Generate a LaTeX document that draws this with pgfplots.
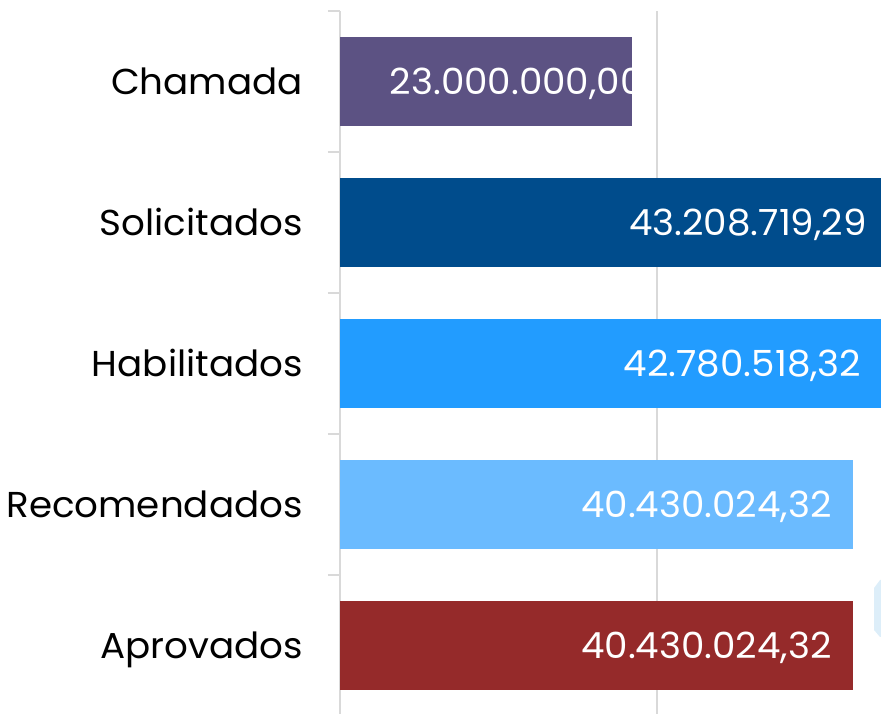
\documentclass[border=0pt]{standalone}
\usepackage{pgfplots}
\pgfplotsset{compat=1.18}
\usepackage{fontspec}
\setmainfont[FakeStretch=1.035]{Poppins}
\definecolor{cCham}{HTML}{5C5283}
\definecolor{cSol}{HTML}{004C8C}
\definecolor{cHab}{HTML}{229CFF}
\definecolor{cRec}{HTML}{6BBBFF}
\definecolor{cApr}{HTML}{952A2A}
\definecolor{gridgray}{HTML}{D9D9D9}
\definecolor{deco}{HTML}{DDEEF9}
\begin{document}
\begin{tikzpicture}
\useasboundingbox (0,0) rectangle (881bp,714bp);
\fill[deco] (881bp,134bp) -- (880bp,134bp) -- (874bp,126bp) -- (874bp,84bp) -- (880bp,77bp) -- (881bp,77bp) -- cycle;
\begin{axis}[
  at={(340bp,-2bp)}, anchor=south west,
  scale only axis, width=634bp, height=705bp,
  xmin=0, xmax=50000000, ymin=-0.5, ymax=4.5, y dir=reverse,
  enlargelimits=false,
  xbar, bar width=89bp, bar shift=0pt,
  axis lines*=left,
  x axis line style={draw=none},
  y axis line style={draw=gridgray, line width=2bp},
  xtick={25000000}, xticklabels={},
  xmajorgrids, major x grid style={draw=gridgray, line width=2bp},
  major tick length=0pt,
  ytick={0,1,2,3,4},
  yticklabels={Chamada,Solicitados,Habilitados,Recomendados,Aprovados},
  extra y ticks={-0.5,0.5,1.5,2.5,3.5,4.5}, extra y tick labels={},
  extra y tick style={major tick length=12bp, tick align=outside, tick style={draw=gridgray, line width=2bp}},
  yticklabel style={font=\fontsize{36bp}{43bp}\selectfont, text=black, anchor=base east, inner sep=0pt, xshift=-37bp, yshift=-13bp},
  point meta=explicit symbolic,
  nodes near coords={\pgfplotspointmeta},
  every node near coord/.append style={font=\fontsize{36bp}{43bp}\selectfont, text=white, inner sep=0pt, anchor=base east, xshift=-21bp, yshift=-13bp},
]
\addplot[draw=none, fill=cCham, every node near coord/.append style={anchor=base west, xshift=-221bp}] coordinates {(23000000,0) [23.000.000,00]};
\addplot[draw=none, fill=cSol] coordinates {(43208719.29,1) [43.208.719,29]};
\addplot[draw=none, fill=cHab] coordinates {(42780518.32,2) [42.780.518,32]};
\addplot[draw=none, fill=cRec] coordinates {(40430024.32,3) [40.430.024,32]};
\addplot[draw=none, fill=cApr] coordinates {(40430024.32,4) [40.430.024,32]};
\end{axis}
\end{tikzpicture}
\end{document}
